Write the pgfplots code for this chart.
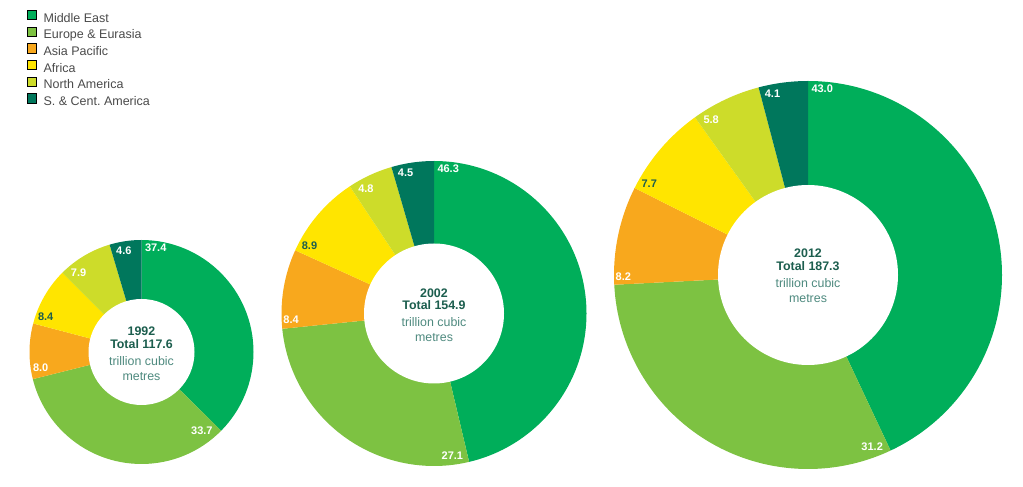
\documentclass[border=0pt]{standalone}
\usepackage{pgfplots}
\usepackage{pgfplotstable}
\pgfplotsset{compat=1.18}
\usepackage{fontspec}
\setmainfont{Liberation Sans}
\frenchspacing

\definecolor{mecol}{HTML}{00AE5A}
\definecolor{eecol}{HTML}{7DC242}
\definecolor{apcol}{HTML}{F8A81D}
\definecolor{afcol}{HTML}{FFE500}
\definecolor{nacol}{HTML}{CDDC2A}
\definecolor{sacol}{HTML}{00775C}
\definecolor{darktxt}{HTML}{1C5E4E}
\definecolor{lighttxt}{HTML}{4E8A7F}
\definecolor{leggray}{HTML}{4A4A4A}

% share of proved gas reserves (%), clockwise from 12 o'clock
\pgfplotstableread{
value col txt
37.4 mecol white
33.7 eecol white
8.0 apcol white
8.4 afcol darktxt
7.9 nacol white
4.6 sacol white
}\dataA
\pgfplotstableread{
value col txt
46.3 mecol white
27.1 eecol white
8.4 apcol white
8.9 afcol darktxt
4.8 nacol white
4.5 sacol white
}\dataB
\pgfplotstableread{
value col txt
43.0 mecol white
31.2 eecol white
8.2 apcol white
7.7 afcol darktxt
5.8 nacol white
4.1 sacol white
}\dataC

\newcommand\labfont{\fontsize{11}{13}\selectfont\bfseries}

% #1 table, #2 cx, #3 cy, #4 outer radius, #5 inner radius
\newcommand\drawdonut[5]{%
  \xdef\cum{0}%
  \foreach \i in {0,...,5}{%
    \pgfplotstablegetelem{\i}{value}\of{#1}\let\val\pgfplotsretval
    \pgfplotstablegetelem{\i}{col}\of{#1}\let\col\pgfplotsretval
    \pgfmathsetmacro\aone{90-3.6*\cum}%
    \pgfmathsetmacro\atwo{90-3.6*(\cum+\val)}%
    \fill[\col] (axis cs:#2,#3) -- ++(\aone:#4pt) arc[start angle=\aone, end angle=\atwo, radius=#4pt] -- cycle;
    \pgfmathsetmacro\newcum{\cum+\val}\xdef\cum{\newcum}%
  }%
  \fill[white] (axis cs:#2,#3) circle[radius=#5pt];
  \xdef\cum{0}%
  \foreach \i in {0,...,5}{%
    \pgfplotstablegetelem{\i}{value}\of{#1}\let\val\pgfplotsretval
    \pgfplotstablegetelem{\i}{txt}\of{#1}\let\tcol\pgfplotsretval
    \begingroup\labfont\pgfmathwidth{"\val"}\xdef\wdv{\pgfmathresult}\endgroup
    \pgfmathsetmacro\ph{90-3.6*\cum}%
    \pgfmathsetmacro\hw{\wdv/2}%
    \pgfmathsetmacro\dr{#4-abs(cos(\ph))*\hw-abs(sin(\ph))*4-1.5-2.2*abs(sin(\ph))}%
    \pgfmathsetmacro\dt{abs(sin(\ph))*\hw+abs(cos(\ph))*4+3.5}%
    \pgfmathsetmacro\lx{#2+\dr*cos(\ph)+\dt*sin(\ph)}%
    \pgfmathsetmacro\ly{#3+\dr*sin(\ph)-\dt*cos(\ph)}%
    \node[inner sep=0pt, text=\tcol, font=\labfont] at (axis cs:\lx,\ly) {\val};
    \pgfmathsetmacro\newcum{\cum+\val}\xdef\cum{\newcum}%
  }%
}

\begin{document}
\begin{tikzpicture}
\begin{axis}[
  scale only axis, width=1023pt, height=487pt,
  xmin=0, xmax=1023, ymin=0, ymax=487,
  hide axis, clip=false,
  legend cell align=left,
  legend image code/.code={\fill[#1] (0pt,-0.3pt) rectangle (9.3pt,9pt);},
  legend style={at={(axis cs:26.7,477.3)}, anchor=north west, draw=none, fill=none,
    inner sep=0pt, row sep=1.5pt, column sep=7pt,
    font=\fontsize{12.5}{14}\selectfont, text=leggray,
    nodes={inner sep=0pt, text height=9pt, text depth=3pt}},
]
\path (axis cs:0,0) rectangle (axis cs:1023,487);
\addlegendimage{fill=mecol}\addlegendentry{Middle East}
\addlegendimage{fill=eecol}\addlegendentry{Europe \& Eurasia}
\addlegendimage{fill=apcol}\addlegendentry{Asia Pacific}
\addlegendimage{fill=afcol}\addlegendentry{Africa}
\addlegendimage{fill=nacol}\addlegendentry{North America}
\addlegendimage{fill=sacol}\addlegendentry{S.\ \&\ Cent.\ America}

\pgfplotsextra{%
  \drawdonut{\dataA}{141.5}{135}{112}{53}%
  \drawdonut{\dataB}{434}{173.5}{152.5}{70}%
  \drawdonut{\dataC}{808}{212}{194}{90}%
}

\node[align=center, inner sep=0pt, text=darktxt, font=\fontsize{12.4}{15}\selectfont]
  at (axis cs:141.5,133.1) {\bfseries 1992\\[-2.6pt] \bfseries Total 117.6\\[2pt]
  \color{lighttxt}trillion cubic\\ \color{lighttxt}metres};
\node[align=center, inner sep=0pt, text=darktxt, font=\fontsize{12.4}{15}\selectfont]
  at (axis cs:434,171.5) {\bfseries 2002\\[-2.6pt] \bfseries Total 154.9\\[2pt]
  \color{lighttxt}trillion cubic\\ \color{lighttxt}metres};
\node[align=center, inner sep=0pt, text=darktxt, font=\fontsize{12.4}{15}\selectfont]
  at (axis cs:808,211.1) {\bfseries 2012\\[-2.6pt] \bfseries Total 187.3\\[2pt]
  \color{lighttxt}trillion cubic\\ \color{lighttxt}metres};
\end{axis}
\end{tikzpicture}
\end{document}
